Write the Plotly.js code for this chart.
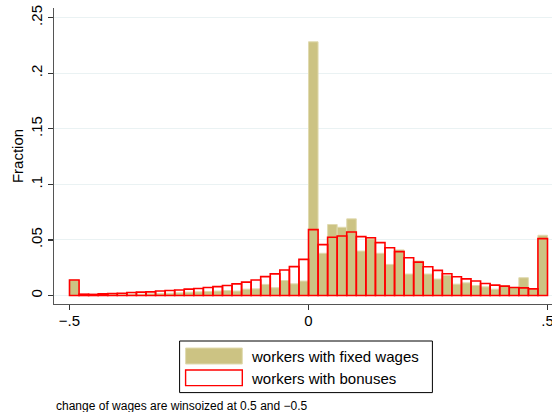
<!DOCTYPE html>
<html>
<head>
<meta charset="utf-8">
<script src="https://cdn.plot.ly/plotly-3.0.1.min.js"></script>
<style>
  html, body { margin: 0; padding: 0; background: #fff; }
  #chart { width: 552px; height: 412px; }
</style>
</head>
<body>
<div id="chart"></div>
<script>
// Histogram bins: 50 bins of width 0.02 from -0.5 to 0.5
const binStart = -0.5;
const binWidth = 0.02;
const binCount = 50;

// Fraction per bin, workers with fixed wages
const fixedWages = [
  0.014, 0.0005, 0.0005, 0.0006, 0.001, 0.001, 0.0012, 0.0012, 0.0015, 0.0018,
  0.002, 0.0024, 0.003, 0.0033, 0.0036, 0.004, 0.0045, 0.004, 0.0057, 0.006,
  0.01, 0.007, 0.0135, 0.0105, 0.013,
  0.2283, 0.038, 0.0639, 0.0614, 0.069, 0.040, 0.051, 0.038, 0.028, 0.041,
  0.0193, 0.031, 0.0193, 0.0148, 0.018, 0.0102, 0.0114, 0.009, 0.0078, 0.0057,
  0.0087, 0.0072, 0.016, 0.0054, 0.0542
];

// Fraction per bin, workers with bonuses
const bonuses = [
  0.014, 0.0012, 0.001, 0.0015, 0.0018, 0.002, 0.0027, 0.003, 0.0033, 0.004,
  0.0045, 0.005, 0.0057, 0.0063, 0.0072, 0.008, 0.009, 0.0105, 0.012, 0.014,
  0.017, 0.0195, 0.023, 0.026, 0.0325,
  0.0593, 0.0458, 0.0524, 0.0536, 0.0572, 0.053, 0.052, 0.0476, 0.043, 0.0395,
  0.034, 0.030, 0.0259, 0.0226, 0.0196, 0.0169, 0.015, 0.013, 0.0108, 0.0093,
  0.0084, 0.0072, 0.0069, 0.006, 0.0512
];

const seriesNames = ["workers with fixed wages", "workers with bonuses"];
const xTickVals = [-0.5, 0, 0.5];
const xTickText = ["\u2212.5", "0", ".5"];
const yTickVals = [0, 0.05, 0.1, 0.15, 0.2, 0.25];
const yTickText = ["0", ".05", ".1", ".15", ".2", ".25"];
const yTitle = "Fraction";
const note = "change of wages are winsoized at 0.5 and \u22120.5";

const binCenters = [];
for (let i = 0; i < binCount; i++) binCenters.push(binStart + binWidth * (i + 0.5));

const olive = "#CCC383";
const oliveEdge = "#E0DAB0";
const red = "#FF0000";
const font = "Liberation Sans, Arial, sans-serif";

const traces = [
  {
    type: "bar", x: binCenters, y: fixedWages, width: binWidth,
    name: seriesNames[0],
    marker: { color: olive, line: { color: oliveEdge, width: 1 } },
    hoverinfo: "skip"
  },
  {
    type: "bar", x: binCenters, y: bonuses, width: binWidth,
    name: seriesNames[1],
    marker: { color: "rgba(0,0,0,0)", line: { color: red, width: 1.6 } },
    hoverinfo: "skip"
  }
];

// pixel -> paper helpers (plot area: x 54..552, y 8..304)
const L = 54, R = 552, T = 8, B = 304;
const px = x => (x - L) / (R - L);
const py = y => (B - y) / (B - T);

const layout = {
  width: 552, height: 412,
  margin: { l: L, r: 552 - R, t: T, b: 412 - B, pad: 0 },
  paper_bgcolor: "#fff", plot_bgcolor: "#fff",
  barmode: "overlay", bargap: 0, showlegend: false,
  font: { family: font, size: 15, color: "#000" },
  xaxis: {
    range: [-0.53243, 0.50942],
    tickvals: xTickVals, ticktext: xTickText,
    ticks: "outside", ticklen: 5, tickwidth: 1.2, tickcolor: "#333",
    ticklabeloverflow: "allow", ticklabelstandoff: -2,
    showline: true, linecolor: "#555", linewidth: 1.3,
    showgrid: false, zeroline: false,
    tickfont: { family: font, size: 15, color: "#000" }
  },
  yaxis: {
    range: [-0.00765, 0.25873],
    tickvals: yTickVals, ticktext: yTickText,
    tickangle: -90,
    ticks: "outside", ticklen: 5, tickwidth: 1.2, tickcolor: "#333",
    showline: true, linecolor: "#555", linewidth: 1.3,
    showgrid: true, gridcolor: "#EAF2F3", gridwidth: 1,
    zeroline: false,
    tickfont: { family: font, size: 15, color: "#000" },
    title: { text: yTitle, font: { family: font, size: 15, color: "#000" }, standoff: 0 }
  },
  shapes: [
    { type: "rect", xref: "paper", yref: "paper",
      x0: px(179.6), x1: px(432.4), y0: py(341), y1: py(392.6),
      line: { color: "#000", width: 1 }, fillcolor: "#fff" },
    { type: "rect", xref: "paper", yref: "paper",
      x0: px(185.6), x1: px(242.3), y0: py(348), y1: py(364),
      line: { color: oliveEdge, width: 1 }, fillcolor: olive },
    { type: "rect", xref: "paper", yref: "paper",
      x0: px(185.6), x1: px(242.3), y0: py(370), y1: py(385.6),
      line: { color: red, width: 1.4 }, fillcolor: "rgba(0,0,0,0)" }
  ],
  annotations: [
    { xref: "paper", yref: "paper", x: px(249), y: py(356), xanchor: "left", yanchor: "middle",
      text: seriesNames[0], showarrow: false, font: { family: font, size: 15, color: "#000" } },
    { xref: "paper", yref: "paper", x: px(249), y: py(378), xanchor: "left", yanchor: "middle",
      text: seriesNames[1], showarrow: false, font: { family: font, size: 15, color: "#000" } },
    { xref: "paper", yref: "paper", x: px(54), y: py(405.5), xanchor: "left", yanchor: "middle",
      text: note, showarrow: false, font: { family: font, size: 12, color: "#000" } }
  ]
};

Plotly.newPlot("chart", traces, layout, { staticPlot: true, displayModeBar: false });
</script>
</body>
</html>
